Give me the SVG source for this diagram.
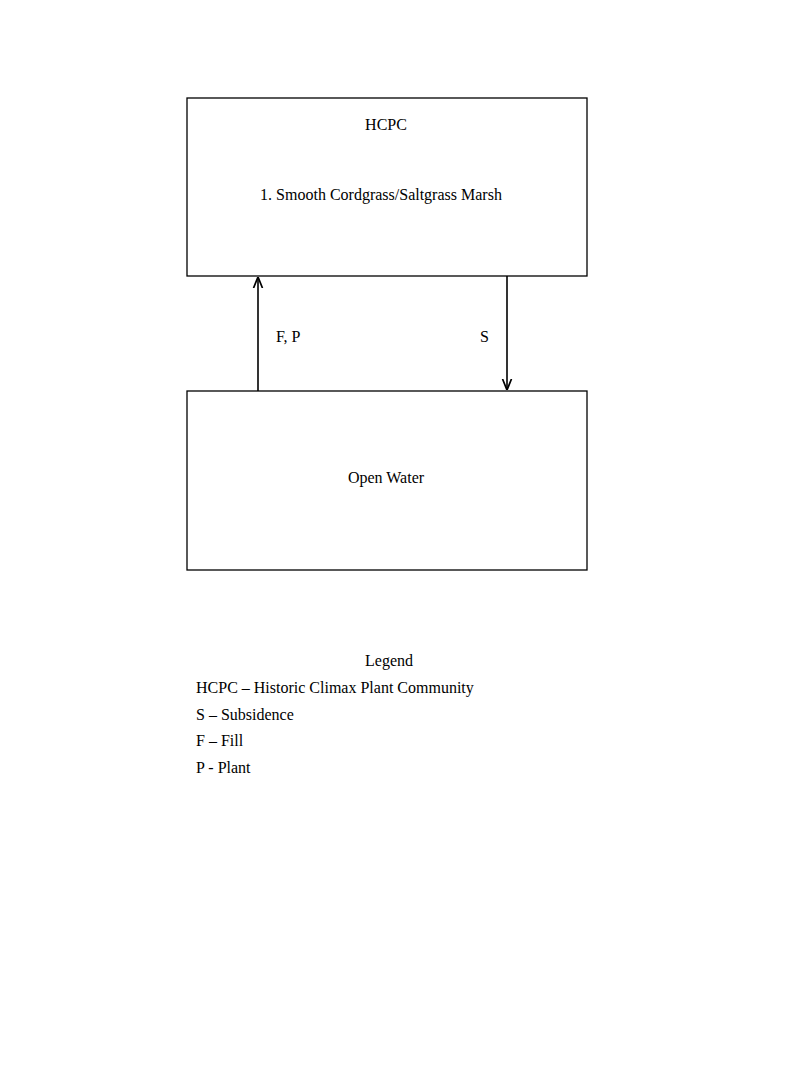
<svg xmlns="http://www.w3.org/2000/svg" width="800" height="1067" viewBox="0 0 800 1067">
<style>
.box{fill:#fff;stroke:#000;stroke-width:1.3}
text{font-family:"Liberation Serif",serif;font-size:16px;fill:#000}
.c{text-anchor:middle}
.ln{stroke:#000;stroke-width:1.6;fill:none}
</style>
<defs><marker id="ah" viewBox="0 0 10 10" refX="9" refY="5" markerWidth="7" markerHeight="7" orient="auto"><path d="M0,1 L10,5 L0,9" fill="none" stroke="#000" stroke-width="1.5"/></marker></defs>
<rect width="800" height="1067" fill="#fff"/>
<g id="hcpc"><rect class="box" x="187" y="98" width="400" height="178"/>
<text class="c" x="386" y="130">HCPC</text>
<text class="c" x="381" y="200">1.  Smooth Cordgrass/Saltgrass Marsh</text></g>
<g id="water"><rect class="box" x="187" y="391" width="400" height="179"/>
<text class="c" x="386" y="483">Open  Water</text></g>
<g id="connectors">
<line class="ln" x1="258" y1="391" x2="258" y2="278" marker-end="url(#ah)"/>
<line class="ln" x1="507" y1="276" x2="507" y2="389" marker-end="url(#ah)"/>
<text x="276" y="342">F, P</text>
<text x="480" y="342">S</text></g>
<g id="legend">
<text class="c" x="389" y="666">Legend</text>
<text x="196" y="693">HCPC – Historic Climax Plant Community</text>
<text x="196" y="720">S – Subsidence</text>
<text x="196" y="746">F – Fill</text>
<text x="196" y="773">P - Plant</text></g>
</svg>
